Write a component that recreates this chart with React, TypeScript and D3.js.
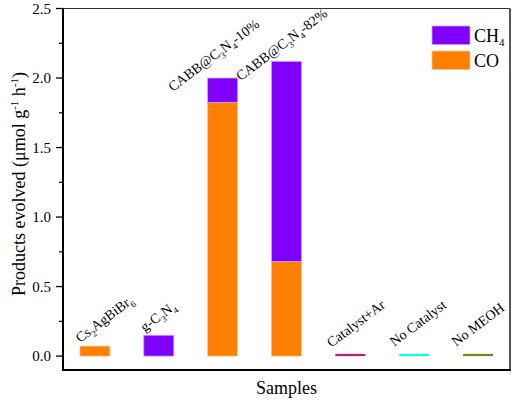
import React, { useEffect, useRef } from 'react';
import * as d3 from 'd3';

// Categories (label parts: [text, 'sub' | ''])
const categories = ['Cs2AgBiBr6', 'g-C3N4', 'CABB@C3N4-10%', 'CABB@C3N4-82%', 'Catalyst+Ar', 'No Catalyst', 'No MEOH'];
const labelParts: [string, string][][] = [
  [['Cs', ''], ['2', 'sub'], ['AgBiBr', ''], ['6', 'sub']],
  [['g-C', ''], ['3', 'sub'], ['N', ''], ['4', 'sub']],
  [['CABB@C', ''], ['3', 'sub'], ['N', ''], ['4', 'sub'], ['-10%', '']],
  [['CABB@C', ''], ['3', 'sub'], ['N', ''], ['4', 'sub'], ['-82%', '']],
  [['Catalyst+Ar', '']],
  [['No Catalyst', '']],
  [['No MEOH', '']],
];
const coValues = [0.072, 0, 1.825, 0.68, 0, 0, 0];
const ch4Values = [0, 0.15, 0.175, 1.44, 0, 0, 0];
const controlValues = [0, 0, 0, 0, 0.016, 0.016, 0.016];
const controlColors = ['', '', '', '', '#c2186e', '#00ffff', '#808014'];
const yTicks = [0, 0.5, 1.0, 1.5, 2.0, 2.5];
const yMinorTicks = [0.25, 0.75, 1.25, 1.75, 2.25];

// label offset from bar's left/top corner
const labelOffsets = [[0, -3], [1, -3], [-35, 14], [-31, 20], [-4, -6], [-5, -7], [-7, -7]];

const W = 514;
const H = 403;
const margin = { left: 63, right: 4, top: 8.5, bottom: 33 };
const PURPLE = '#8000ff';
const ORANGE = '#ff8000';
const FONT = '"Liberation Serif", "Times New Roman", serif';

const App: React.FC = () => {
  const ref = useRef<SVGSVGElement>(null);

  useEffect(() => {
    const svg = d3.select(ref.current);
    svg.selectAll('*').remove();

    const x0 = margin.left;
    const x1 = W - margin.right;
    const y0 = H - margin.bottom;
    const y1 = margin.top;

    const x = d3.scaleBand<string>()
      .domain(categories)
      .range([x0, x1])
      .paddingInner(0.53)
      .paddingOuter(0.265);
    const y = d3.scaleLinear().domain([-0.1, 2.5]).range([y0, y1]);

    // bars: CO bottom, CH4 stacked on top
    categories.forEach((c, i) => {
      const bx = x(c)!;
      const bw = x.bandwidth();
      if (coValues[i] > 0) {
        svg.append('rect')
          .attr('x', bx).attr('width', bw)
          .attr('y', y(coValues[i])).attr('height', y(0) - y(coValues[i]))
          .attr('fill', ORANGE).attr('stroke', '#ffc58a').attr('stroke-width', 0.8);
      }
      if (ch4Values[i] > 0) {
        const top = coValues[i] + ch4Values[i];
        svg.append('rect')
          .attr('x', bx).attr('width', bw)
          .attr('y', y(top)).attr('height', y(coValues[i]) - y(top))
          .attr('fill', PURPLE).attr('stroke', '#c9a0ff').attr('stroke-width', 0.8);
      }
      if (controlValues[i] > 0) {
        svg.append('rect')
          .attr('x', bx).attr('width', bw)
          .attr('y', y(controlValues[i])).attr('height', y(0) - y(controlValues[i]))
          .attr('fill', controlColors[i]);
      }

      // rotated label
      const total = coValues[i] + ch4Values[i] + controlValues[i];
      const lx = bx + labelOffsets[i][0];
      const ly = y(total) + labelOffsets[i][1];
      const t = svg.append('text')
        .attr('transform', `translate(${lx},${ly}) rotate(-37)`)
        .attr('font-family', FONT)
        .attr('font-size', 14)
        .attr('fill', '#000');
      labelParts[i].forEach(([txt, kind], k) => {
        const prevSub = k > 0 && labelParts[i][k - 1][1] === 'sub';
        const ts = t.append('tspan').text(txt);
        if (kind === 'sub') {
          ts.attr('font-size', 9).attr('dy', prevSub ? 0 : 4);
        } else if (prevSub) {
          ts.attr('dy', -4);
        }
      });
    });

    // frame
    svg.append('line').attr('x1', x0).attr('x2', x1).attr('y1', y1).attr('y2', y1)
      .attr('stroke', '#333').attr('stroke-width', 1.2);
    svg.append('line').attr('x1', x1).attr('x2', x1).attr('y1', y1).attr('y2', y0)
      .attr('stroke', '#444').attr('stroke-width', 1.8);
    svg.append('line').attr('x1', x0 - 1).attr('x2', x1 + 1).attr('y1', y0).attr('y2', y0)
      .attr('stroke', '#000').attr('stroke-width', 2);
    svg.append('line').attr('x1', x0).attr('x2', x0).attr('y1', y1).attr('y2', y0 + 1)
      .attr('stroke', '#000').attr('stroke-width', 2);

    // y ticks
    const yg = svg.append('g');
    yTicks.forEach(v => {
      yg.append('line').attr('x1', x0 - 7).attr('x2', x0).attr('y1', y(v)).attr('y2', y(v))
        .attr('stroke', '#000').attr('stroke-width', 1.3);
      yg.append('text')
        .attr('x', x0 - 12).attr('y', y(v)).attr('dy', '0.34em')
        .attr('text-anchor', 'end')
        .attr('font-family', FONT).attr('font-size', 15)
        .text(d3.format('.1f')(v));
    });
    yMinorTicks.forEach(v => {
      yg.append('line').attr('x1', x0 - 4).attr('x2', x0).attr('y1', y(v)).attr('y2', y(v))
        .attr('stroke', '#000').attr('stroke-width', 1.2);
    });

    // axis titles
    svg.append('text')
      .attr('x', (x0 + x1) / 2).attr('y', 394)
      .attr('text-anchor', 'middle')
      .attr('font-family', FONT).attr('font-size', 18)
      .text('Samples');

    const yt = svg.append('text')
      .attr('transform', `translate(25,184) rotate(-90)`)
      .attr('text-anchor', 'middle')
      .attr('font-family', FONT).attr('font-size', 18);
    yt.append('tspan').text('Products evolved (μmol g');
    yt.append('tspan').text('-1').attr('font-size', 11).attr('dy', -7);
    yt.append('tspan').text(' h').attr('dy', 7);
    yt.append('tspan').text('-1').attr('font-size', 11).attr('dy', -7);
    yt.append('tspan').text(')').attr('dy', 7);

    // legend
    const legend = [
      { color: PURPLE, stroke: '#c9a0ff', parts: [['CH', ''], ['4', 'sub']] },
      { color: ORANGE, stroke: '#ffc58a', parts: [['CO', '']] },
    ];
    legend.forEach((d, i) => {
      const ly = 26 + i * 25;
      svg.append('rect').attr('x', 432).attr('y', ly).attr('width', 38).attr('height', 18.5)
        .attr('fill', d.color).attr('stroke', d.stroke).attr('stroke-width', 0.8);
      const t = svg.append('text').attr('x', 474).attr('y', ly + 15.5)
        .attr('font-family', FONT).attr('font-size', 18);
      d.parts.forEach(([txt, kind]) => {
        const ts = t.append('tspan').text(txt);
        if (kind === 'sub') ts.attr('font-size', 11).attr('dy', 4);
      });
    });
  }, []);

  return (
    <div style={{ position: 'absolute', left: 0, top: 0 }}>
      <svg ref={ref} width={W} height={H} style={{ display: 'block', background: '#fff' }} />
    </div>
  );
};

export default App;
